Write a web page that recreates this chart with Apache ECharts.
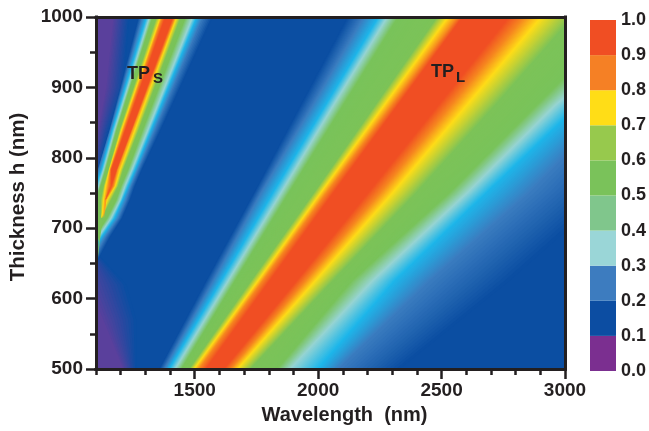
<!DOCTYPE html>
<html><head><meta charset="utf-8">
<style>html,body{margin:0;padding:0;background:#fff}#c{width:649px;height:431px}</style>
<script src="https://cdn.jsdelivr.net/npm/echarts@6/dist/echarts.min.js"></script>
</head><body><div id="c"></div>
<script>
// Thickness rows (nm) at which the iso-transmission contours were read
const tplRows = [500, 625, 750, 875, 1000];
const wedgeRows = [1000, 840, 783, 760, 740, 714, 687, 650];
const purpleTopRows = [1000, 900, 840, 780, 740];
const purpleLowRows = [670, 620, 570, 500];

// Contour level colours, outermost to innermost
const levelColors = ['#0B4EA2', '#3B7DC0', '#1DB6EA', '#97D4D3', '#79C35A', '#7CC358', '#FFDD17', '#F6861F', '#F04E23'];

// TP_L contours: wavelength (nm) per row of tplRows, one line per level
const tplLeft = [
  [1356, 1545, 1739, 1928, 2118],
  [1376, 1574, 1767, 1977, 2182],
  [1396, 1606, 1815, 2029, 2243],
  [1420, 1634, 1848, 2061, 2279],
  [1445, 1662, 1880, 2101, 2323],
  [1477, 1727, 1981, 2230, 2480],
  [1497, 1755, 2009, 2267, 2525],
  [1517, 1775, 2033, 2299, 2565],
  [1545, 1803, 2061, 2323, 2585]
];
const tplRight = [
  [2330, 2774, 3177, 3540, 3790],
  [2081, 2452, 2855, 3202, 3540],
  [2001, 2311, 2682, 3057, 3512],
  [1888, 2222, 2605, 2964, 3383],
  [1835, 2138, 2533, 2887, 3246],
  [1727, 2061, 2400, 2722, 3036],
  [1674, 1989, 2303, 2605, 2907],
  [1646, 1948, 2251, 2541, 2835],
  [1618, 1912, 2202, 2488, 2774]
];
// TP_S contours: wavelength (nm) per row of wedgeRows
const wedgeLeft = [
  [1271, 1154, 1106, 1086, 1066, 1058, 1042, 1021],
  [1287, 1158, 1110, 1090, 1070, 1062, 1042, 1021],
  [1304, 1166, 1122, 1098, 1078, 1066, 1042, 1021],
  [1316, 1175, 1130, 1110, 1090, 1074, 1050, 1021],
  [1328, 1183, 1138, 1118, 1098, 1082, 1062, 1021],
  [1344, 1195, 1150, 1130, 1118, 1122, 1122, 1122],
  [1360, 1203, 1154, 1138, 1130, 1122, 1122, 1122],
  [1368, 1211, 1158, 1150, 1138, 1138, 1138, 1138],
  [1380, 1219, 1162, 1162, 1138, 1138, 1138, 1138]
];
const wedgeRight = [
  [1574, 1364, 1287, 1259, 1239, 1207, 1158, 1102],
  [1533, 1340, 1271, 1243, 1223, 1191, 1138, 1082],
  [1509, 1324, 1259, 1231, 1207, 1175, 1122, 1050],
  [1493, 1312, 1247, 1219, 1199, 1162, 1110, 1021],
  [1465, 1291, 1231, 1203, 1183, 1146, 1094, 1021],
  [1445, 1275, 1211, 1191, 1163, 1122, 1122, 1122],
  [1428, 1259, 1199, 1179, 1146, 1122, 1122, 1122],
  [1420, 1247, 1187, 1171, 1138, 1138, 1138, 1138],
  [1412, 1243, 1183, 1162, 1138, 1138, 1138, 1138]
];
// Violet (T < 0.1) regions against the left axis
const purpleColors = ['#0B4EA2', '#5A409C'];
const purpleTopOuter = [1235, 1211, 1154, 1110, 1082];
const purpleTopInner = [1171, 1142, 1110, 1082, 1062];
const purpleLowOuter = [1090, 1223, 1263, 1263];
const purpleLowInner = [1062, 1070, 1130, 1211];

// Colour bar
const barLabels = ['0.0','0.1','0.2','0.3','0.4','0.5','0.6','0.7','0.8','0.9','1.0'];
const barColors = ['#7B2F90','#0C4DA2','#3D7CBF','#9AD6D7','#80C68C','#7AC25A','#97C94D','#FFDD17','#F58025','#F04E23'];
const barStep = [0.1];

const xMajor = [1500, 2000, 2500, 3000];
const yMajor = [500, 600, 700, 800, 900, 1000];
const INK = '#231F20', FONT = '"Liberation Sans", Arial, sans-serif';

const hex = c => [1,3,5].map(i => parseInt(c.substr(i,2),16));
const mix = (a,b,t) => { const p=hex(a), q=hex(b);
  return 'rgb(' + p.map((v,i)=>Math.round(v+(q[i]-v)*t)).join(',') + ')'; };

// Nested filled contours: each polygon is drawn over the previous, with
// colour stepped between neighbouring levels for the soft printed look.
function family(rows, left, right, colors, steps) {
  const out = [];
  for (let k = 0; k < left.length; k++) {
    const last = k === left.length - 1, n = last ? 1 : steps;
    for (let s = 0; s < n; s++) {
      const t = s / n;
      const at = (arr, i) => last ? arr[k][i] : arr[k][i] + (arr[k+1][i] - arr[k][i]) * t;
      const pts = [];
      rows.forEach((h,i) => pts.push([at(left,i), h]));
      for (let i = rows.length-1; i >= 0; i--) pts.push([at(right,i), rows[i]]);
      out.push({pts, fill: last ? colors[k] : mix(colors[k], colors[k+1], t)});
    }
  }
  return out;
}
const edge = rows => rows.map(() => 1000);
const bands = [
  ...family(purpleLowRows, [edge(purpleLowRows), edge(purpleLowRows)], [purpleLowOuter, purpleLowInner], purpleColors, 12),
  ...family(purpleTopRows, [edge(purpleTopRows), edge(purpleTopRows)], [purpleTopOuter, purpleTopInner], purpleColors, 12),
  ...family(wedgeRows, wedgeLeft, wedgeRight, levelColors, 6),
  ...family(tplRows, tplLeft, tplRight, levelColors, 16)
];

const chart = echarts.init(document.getElementById('c'), null, {renderer:'canvas'});
const hidden = {show:false};
const labelStyle = {color:INK, fontFamily:FONT, fontWeight:'bold', fontSize:19};
const titleStyle = {color:INK, fontFamily:FONT, fontWeight:'bold', fontSize:20};
const yTitleStyle = {color:INK, fontFamily:FONT, fontWeight:'bold', fontSize:20.5, padding:[0,8,0,0]};
const barLabelStyle = {color:INK, fontFamily:FONT, fontWeight:'bold', fontSize:18};
const line = {show:true, onZero:false, lineStyle:{color:INK, width:3, cap:'square'}};
const tick = (len, extra) => Object.assign({show:true, length:len, lineStyle:{color:INK, width:2.5}}, extra);

chart.setOption({
  animation:false,
  backgroundColor:'#fff',
  grid:[
    {left:95, top:17, width:470, height:352, show:true, borderWidth:0, backgroundColor:levelColors[0]},
    {left:590, top:20, width:26, height:351}
  ],
  xAxis:[
    {type:'value', gridIndex:0, min:1100, max:3000, interval:100, position:'bottom', z:10,
     axisLine:line, axisTick:tick(6), axisLabel:hidden, splitLine:hidden},
    {type:'value', gridIndex:0, min:1100, max:3000, interval:100, position:'bottom', z:10,
     axisLine:line, axisTick:tick(10,{customValues:xMajor}),
     axisLabel:Object.assign({show:true, margin:12, customValues:xMajor, formatter:v=>String(v)}, labelStyle),
     splitLine:hidden,
     name:'Wavelength  (nm)', nameLocation:'middle', nameGap:36,
     nameTextStyle:Object.assign({padding:[0,0,0,28]}, titleStyle)},
    {type:'value', gridIndex:0, min:1100, max:3000, interval:100, position:'top', z:10,
     axisLine:line, axisTick:hidden, axisLabel:hidden, splitLine:hidden},
    {type:'category', gridIndex:1, data:[''], axisLine:hidden, axisTick:hidden, axisLabel:hidden, splitLine:hidden}
  ],
  yAxis:[
    {type:'value', gridIndex:0, min:500, max:1000, interval:100, position:'left', z:10,
     axisLine:line, axisTick:tick(10,{customValues:yMajor}),
     minorTick:{show:true, splitNumber:2, length:6, lineStyle:{color:INK, width:2.5}},
     axisLabel:Object.assign({show:true, margin:13, formatter:v=>String(v)}, labelStyle), splitLine:hidden, minorSplitLine:hidden,
     name:'Thickness h (nm)', nameLocation:'middle', nameGap:67, nameTextStyle:yTitleStyle},
    {type:'value', gridIndex:0, min:500, max:1000, interval:100, position:'right', z:10,
     axisLine:line, axisTick:hidden, axisLabel:hidden, splitLine:hidden},
    {type:'value', gridIndex:1, min:0, max:1, interval:0.1, position:'right',
     axisLine:hidden, axisTick:hidden, splitLine:hidden,
     axisLabel:Object.assign({show:true, margin:5, formatter:v=>barLabels[Math.round(v*10)]}, barLabelStyle)}
  ],
  series:[
    {type:'custom', xAxisIndex:0, yAxisIndex:0, clip:true, silent:true, data:[[0]], z:2,
     renderItem:(params, api) => ({type:'group', children: bands.map(b => ({
        type:'polygon', shape:{points:b.pts.map(p => api.coord(p))}, style:{fill:b.fill}
     }))})},
    ...barColors.map(c => ({type:'bar', xAxisIndex:3, yAxisIndex:2, stack:'scale', barWidth:'100%',
      silent:true, itemStyle:{color:c}, data:barStep}))
  ],
  graphic:[
    {type:'text', left:127, top:65, z:20, style:{text:'TP', fill:INK, font:'bold 18px '+FONT}},
    {type:'text', left:153, top:71, z:20, style:{text:'S', fill:INK, font:'bold 15px '+FONT}},
    {type:'text', left:431, top:63, z:20, style:{text:'TP', fill:INK, font:'bold 18px '+FONT}},
    {type:'text', left:456, top:70, z:20, style:{text:'L', fill:INK, font:'bold 15px '+FONT}}
  ]
});
</script></body></html>
